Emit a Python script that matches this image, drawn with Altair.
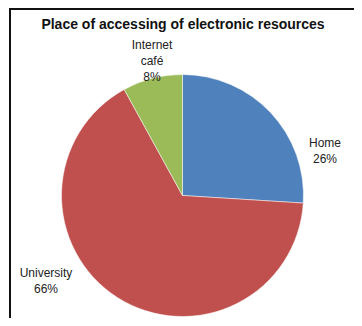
import altair as alt
import pandas as pd

categories = ["Home", "University", "Internet café"]
display_names = ["Home", "University", "Internet\ncafé"]
shares = [26, 66, 8]
colors = ["#4F81BD", "#C0504D", "#9BBB59"]
title_text = "Place of accessing  of electronic resources"

df = pd.DataFrame({
    "category": categories,
    "name": display_names,
    "share": shares,
    "order": list(range(len(categories))),
})

base = alt.Chart(df).transform_calculate(
    label="datum.name + '\\n' + datum.share + '%'"
)

cx, cy = 174.5, 187.5

pie = base.mark_arc(radius=121, stroke="white", strokeWidth=0.5).encode(
    theta=alt.Theta("share:Q", stack=True),
    order=alt.Order("order:Q"),
    color=alt.Color("category:N", scale=alt.Scale(domain=categories, range=colors), legend=None),
    x=alt.value(cx),
    y=alt.value(cy),
)

label_pos = {"Home": (317, 135), "University": (38, 265), "Internet café": (144, 37)}
labels = []
for cat, (lx, ly) in label_pos.items():
    labels.append(
        base.transform_filter(alt.datum.category == cat)
        .mark_text(lineBreak="\n", font="Liberation Sans", fontSize=12, lineHeight=16,
                   color="#222", align="center", baseline="middle")
        .encode(text="label:N", x=alt.value(lx), y=alt.value(ly))
    )

title = alt.Chart(pd.DataFrame({"t": [title_text]})).mark_text(
    font="Liberation Sans", fontSize=14, fontWeight="bold", color="#111",
    align="center", baseline="middle"
).encode(text="t:N", x=alt.value(175), y=alt.value(17))

frame_top = alt.Chart(pd.DataFrame({"a": [0]})).mark_rule(color="#111", strokeWidth=2).encode(
    x=alt.value(1), x2=alt.value(360), y=alt.value(1)
)
frame_left = alt.Chart(pd.DataFrame({"a": [0]})).mark_rule(color="#111", strokeWidth=2).encode(
    x=alt.value(2), y=alt.value(0), y2=alt.value(320)
)

chart = alt.layer(pie, *labels, title, frame_top, frame_left).properties(
    width=346, height=310, autosize=alt.AutoSizeParams(type="none"), padding=0
).configure_view(stroke=None)

chart.save("out.html", embed_options={"renderer": "svg", "actions": False})
